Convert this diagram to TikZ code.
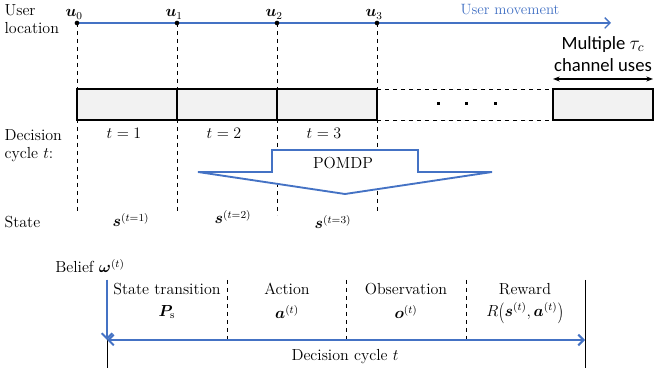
\documentclass[tikz,border=0pt]{standalone}
\usepackage{amsmath,amssymb,bm}
\usepackage{fontspec}
\newfontfamily\calfont{Carlito}
\usetikzlibrary{positioning}
\usetikzlibrary{arrows.meta}
\definecolor{mvblue}{RGB}{68,114,196}
\tikzset{slot/.style={draw,line width=1.1pt,fill=black!5,minimum width=75pt,
           minimum height=23.25pt,inner sep=0pt,outer sep=0pt},
         tick/.style={dashed,thin},
         pt/.style={circle,fill,inner sep=0pt,minimum size=3.5pt},
         lbl/.style={font=\fontsize{12}{13.5}\selectfont,inner sep=1pt},
         phase/.style={font=\fontsize{12}{14}\selectfont,inner sep=0pt}}
% stretched round brackets for the reward term
\newcommand{\tallL}{\mathopen{\raisebox{-1.2pt}{\scalebox{1}[1.3]{$($}}}}
\newcommand{\tallR}{\mathclose{\raisebox{-1.2pt}{\scalebox{1}[1.3]{$)$}}}}

\begin{document}
\begin{tikzpicture}[x=0.75pt,y=-0.75pt]
  \useasboundingbox (0,0) rectangle (654,373);

  % user movement over time
  \coordinate (mvstart) at (77,23);
  \coordinate (mvend) at (611,23);
  \draw[mvblue,line width=1pt,-{Straight Barb[length=4pt]}] (mvstart) -- (mvend);
  \node[lbl,mvblue,anchor=base,font=\fontsize{11.2}{13}\selectfont] (mvlbl) at (510,15) {User movement};
  \foreach \k/\x/\y in {0/77/212,1/177/212,2/277/215,3/377/212}{
    \coordinate (d\k) at (\x,\y);
    \draw[tick] (\x,23) -- (d\k);
    \node[pt] (u\k) at (\x,23) {};
    \node[lbl,anchor=base west] (ul\k) at (\x-13,17) {$\bm{u}_\k$};
  }

  % channel-use blocks
  \node[slot] (c1) at (127,104.5) {};
  \node[slot,right=0pt of c1] (c2) {};
  \node[slot,right=0pt of c2] (c3) {};
  \node[slot] (cN) at (603,104.5) {};
  \draw[tick] (c3.north east) -- (cN.north west);
  \draw[tick] (c3.south east) -- (cN.south west);
  \foreach \x in {438,466,495}
    \fill (\x-1.5,102.5) rectangle ++(3,3);
  \draw[line width=1pt,{Stealth[length=5pt]}-{Stealth[length=5pt]}]
    ([yshift=7.5pt]cN.north west) -- ([yshift=7.5pt]cN.north east);
  \node[align=center,font=\calfont\fontsize{14}{17}\selectfont,inner sep=1pt]
    (mult) at (603,54) {Multiple $\tau_c$\\channel uses};

  % row labels
  \node[lbl,align=left,anchor=west] (uloc) at (3,19) {User\\location};
  \node[lbl,align=left,anchor=west] (dcyc) at (3,146) {Decision\\cycle $t$:};
  \node[lbl,anchor=west] (st) at (3,222) {State};

  \node[lbl] (t1) at (124,133) {$t=1$};
  \node[lbl] (t2) at (224,133) {$t=2$};
  \node[lbl] (t3) at (324,133) {$t=3$};

  % POMDP block arrow
  \draw[mvblue,line width=1.4pt,fill=white] (198,172) -- (272,172) -- (272,150)
    -- (418,150) -- (418,172) -- (492,172) -- (345,194) -- cycle;
  \node[lbl] (pomdp) at (343,163) {POMDP};

  \node[lbl] (s1) at (131,220) {$\bm{s}^{(t=1)}$};
  \node[lbl] (s2) at (233,217) {$\bm{s}^{(t=2)}$};
  \node[lbl] (s3) at (333,222) {$\bm{s}^{(t=3)}$};

  % one decision cycle
  \node[phase,anchor=west] (belief) at (55,266) {Belief $\bm{\omega}^{(t)}$};
  \coordinate (b0) at (107,280);
  \coordinate (b1) at (107,368);
  \coordinate (e0) at (585,280);
  \coordinate (e1) at (585,368);
  \coordinate (a0) at (107,340);
  \coordinate (a1) at (585,340);
  \draw (b0) -- (b1);
  \draw (e0) -- (e1);
  \foreach \x in {227,346,466}
    \draw[tick] (\x,280) -- (\x,340);
  \draw[mvblue,line width=1.5pt,-{Straight Barb[length=4pt]}] (b0) -- (a0);
  \draw[mvblue,line width=1.5pt,{Straight Barb[length=4pt]}-{Straight Barb[length=4pt]}] (a0) -- (a1);

  \node[phase] (trans) at (167,289) {State transition};
  \node[phase] (act) at (287,289) {Action};
  \node[phase] (obs) at (406,289) {Observation};
  \node[phase] (rew) at (525,289) {Reward};
  \node[phase] (ps) at (167,312) {$\bm{P}_{\mathrm{s}}$};
  \node[phase] (at) at (287,312) {$\bm{a}^{(t)}$};
  \node[phase] (ot) at (406,312) {$\bm{o}^{(t)}$};
  \node[phase] (rt) at (525,313) {$R\tallL\bm{s}^{(t)},\bm{a}^{(t)}\tallR$};
  \node[phase] (cyc) at (345,357) {Decision cycle $t$};
\end{tikzpicture}
\end{document}
